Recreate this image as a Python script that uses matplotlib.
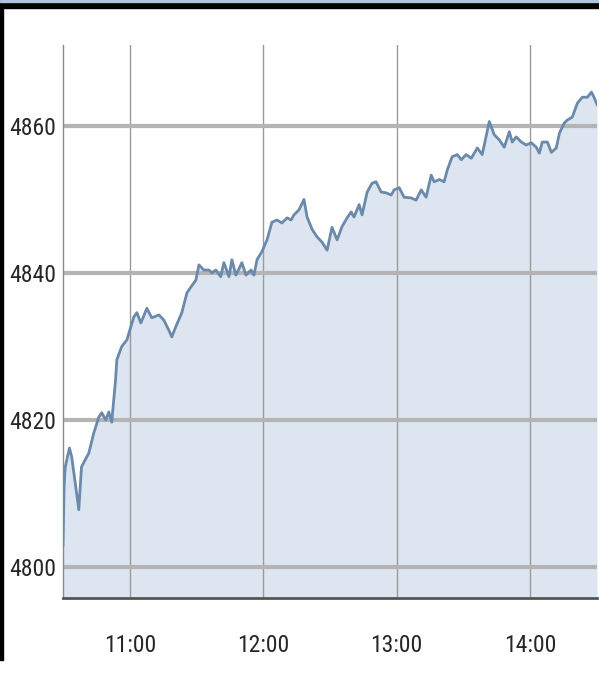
import numpy as np
import matplotlib
matplotlib.use("Agg")
import matplotlib.pyplot as plt
from matplotlib.patches import Rectangle
from matplotlib import font_manager

# index level, minutes after 10:30
minutes = [0, 0.5, 1, 2.9, 3.9, 5.7, 7.1, 8.3, 9.8, 11.6, 13.8, 16.1, 17.4, 19.2, 20.6, 21.9,
           23.6, 24.2, 26.4, 28.7, 30.5, 31.8, 33.2, 35.0, 37.7, 39.9, 43.1, 45.3, 47.6, 48.9,
           50.7, 53.4, 55.7, 57.5, 59.7, 61.1, 63.3, 65.6, 66.9, 68.7, 70.9, 72.3, 74.6, 75.9,
           77.7, 80.4, 82.2, 84.5, 85.8, 87.2, 89.4, 91.7, 93.9, 96.2, 98.4, 100.7, 102.5, 103.8,
           106.1, 108.3, 109.7, 112.0, 114.2, 116.4, 118.7, 120.9, 123.2, 125.4, 127.7, 129.5,
           130.8, 133.1, 134.4, 136.7, 138.9, 140.7, 143.0, 145.2, 147.5, 148.8, 151.1, 153.3,
           156.5, 158.7, 161.0, 163.2, 165.5, 166.8, 169.1, 171.3, 172.7, 174.9, 177.2, 179.0,
           181.2, 183.5, 186.2, 188.4, 191.6, 193.8, 196.1, 198.3, 200.6, 201.9, 203.7, 206.0,
           208.2, 210.5, 212.7, 214.1, 215.4, 217.7, 219.5, 221.7, 223.1, 225.3, 226.7, 228.9,
           231.2, 233.4, 235.7, 237.5, 238.8, 240]
level = [4803.0, 4811.0, 4813.6, 4816.2, 4815.0, 4811.0, 4807.8, 4813.6, 4814.5, 4815.5, 4818.2,
         4820.4, 4821.0, 4820.0, 4821.1, 4819.7, 4825.4, 4828.2, 4830.0, 4830.9, 4832.7, 4834.0,
         4834.6, 4833.2, 4835.2, 4833.9, 4834.3, 4833.6, 4832.2, 4831.3, 4832.7, 4834.6, 4837.3,
         4838.1, 4839.0, 4841.1, 4840.4, 4840.4, 4840.0, 4840.4, 4839.5, 4841.4, 4839.5, 4841.8,
         4839.7, 4841.4, 4839.7, 4840.4, 4839.7, 4841.8, 4842.9, 4844.5, 4846.9, 4847.2, 4846.8,
         4847.5, 4847.2, 4847.9, 4848.6, 4850.0, 4847.6, 4845.9, 4844.9, 4844.2, 4843.1, 4846.2,
         4844.5, 4846.3, 4847.5, 4848.3, 4847.6, 4849.3, 4847.9, 4851.0, 4852.2, 4852.4, 4851.0,
         4850.9, 4850.6, 4851.3, 4851.6, 4850.3, 4850.2, 4849.9, 4851.3, 4850.3, 4853.3, 4852.4,
         4852.7, 4852.4, 4854.0, 4855.8, 4856.1, 4855.4, 4856.1, 4855.6, 4857.0, 4856.1, 4860.6,
         4858.8, 4858.1, 4857.1, 4859.2, 4857.8, 4858.5, 4857.8, 4857.4, 4857.7, 4857.1, 4856.3,
         4857.8, 4857.8, 4856.4, 4857.0, 4859.0, 4860.4, 4860.8, 4861.2, 4863.1, 4863.9, 4863.9,
         4864.6, 4863.8, 4862.9]

hour_ticks = [11, 12, 13, 14]
hour_labels = ["11:00", "12:00", "13:00", "14:00"]
level_ticks = [4800, 4820, 4840, 4860]

# the labels in the picture are a tall narrow face; take a condensed one if there is one
fonts = font_manager.fontManager.ttflist
names = {f.name for f in fonts}
if 'Liberation Sans Narrow' in names:
    fam, stretch, fsize = 'Liberation Sans Narrow', 'normal', 17
elif 'Roboto Condensed' in names:
    fam, stretch, fsize = 'Roboto Condensed', 'normal', 17
elif any(f.name == 'DejaVu Sans' and str(f.stretch) in ('condensed', 'semi-condensed') for f in fonts):
    fam, stretch, fsize = 'DejaVu Sans', 'condensed', 15.5
else:
    fam, stretch, fsize = 'DejaVu Sans', 'normal', 14
plt.rcParams['font.family'] = [fam, 'DejaVu Sans']
plt.rcParams['font.stretch'] = stretch

hours = 10.5 + np.array(minutes) / 60.0
base = 4795.8

fig = plt.figure(figsize=(5.99, 6.77), dpi=100)
ax = fig.add_axes([63/599, 79/677, 534/599, 553/677])

ax.fill_between(hours, level, base, color='#dde6f0', lw=0, zorder=1)
ax.plot(hours, level, color='#6a89ab', lw=2.0, zorder=3)

ax.set_xlim(10.5, 14.5)
ax.set_ylim(base, 4871)
ax.set_xticks(hour_ticks)
ax.set_xticklabels(hour_labels)
ax.set_yticks(level_ticks)
ax.set_yticklabels([str(v) for v in level_ticks])

ax.set_axisbelow('line')
ax.xaxis.grid(True, color='#9a9a9a', lw=1.0)
ax.yaxis.grid(True, color='#b4b4b4', lw=3.0)

for s in ['top', 'right']:
    ax.spines[s].set_visible(False)
ax.spines['left'].set_color('#8a8a8a')
ax.spines['left'].set_linewidth(1.0)
ax.spines['bottom'].set_color('#555555')
ax.spines['bottom'].set_linewidth(2.0)

ax.tick_params(axis='both', length=0, labelsize=fsize, colors='#262626')
ax.tick_params(axis='x', pad=26)
ax.tick_params(axis='y', pad=5)

# window border bits
fig.patches.append(Rectangle((0, 1 - 8/677), 1, 8/677, transform=fig.transFigure,
                             color='black', zorder=10))
fig.patches.append(Rectangle((0, 1 - 2/677), 1, 2/677, transform=fig.transFigure,
                             color='#b0c4de', zorder=11))
fig.patches.append(Rectangle((0, 17/677), 2.5/599, 1 - 25/677, transform=fig.transFigure,
                             color='black', zorder=10))

fig.savefig("out.png", dpi=100)
